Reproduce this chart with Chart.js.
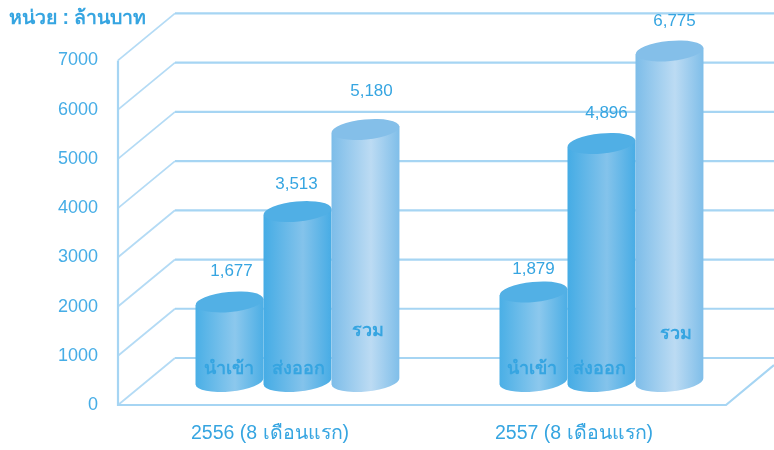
<!DOCTYPE html>
<html>
<head>
<meta charset="utf-8">
<style>html,body{margin:0;padding:0;background:#fff}canvas{display:block}</style>
<script src="https://cdn.jsdelivr.net/npm/chart.js@4/dist/chart.umd.min.js"></script>
</head>
<body>
<canvas id="c" width="774" height="450"></canvas>
<script>
const categories = ["2556 (8 เดือนแรก)", "2557 (8 เดือนแรก)"];
const seriesNames = ["นำเข้า", "ส่งออก", "รวม"];
const imports = [1677, 1879];
const exportsV = [3513, 4896];
const totals = [5180, 6775];
const unitTitle = "หน่วย : ล้านบาท";
const yMax = 7000;
const yStep = 1000;

// styling only
const TEXT = "#36a5e1";
const FONT = "'Liberation Sans', Arial, sans-serif";
const DEPTH_X = 57, DEPTH_Y = 47;
const CAP_SHIFT = 3;
const cylStyles = [
  {edgeL:"#4aafe6", mid:"#8cc8ed", edgeR:"#4caee5", top:"#52b0e5"},
  {edgeL:"#45ace5", mid:"#84c3eb", edgeR:"#47ace5", top:"#50afe5"},
  {edgeL:"#7dbde9", mid:"#bcdbf3", edgeR:"#7fbee9", top:"#84bfe9"}
];
// label placement offsets, per series/category
const valueLift = [[28,20],[24,27],[35,27]];
const valueDx = [[1,-1],[-2,4],[5,4]];
const innerLift = [[12,12],[12,12],[50,47]];
const innerDx = [[-1,-2],[1,-2],[3,7]];

function drawCylinders(chart, index) {
  const {ctx} = chart;
  const st = cylStyles[index];
  const tilt = -0.095, ry = 10;
  chart.getDatasetMeta(index).data.forEach(el => {
    const w = el.width, rx = w / 2;
    const cx = el.x + DEPTH_X / 2 - 1;
    const top = el.y - DEPTH_Y / 2 + CAP_SHIFT;
    const base = el.base - DEPTH_Y / 2;
    const dy = Math.sin(-tilt) * rx;
    const g = ctx.createLinearGradient(cx - rx, 0, cx + rx, 0);
    g.addColorStop(0, st.edgeL);
    g.addColorStop(0.58, st.mid);
    g.addColorStop(1, st.edgeR);
    ctx.save();
    ctx.fillStyle = g;
    ctx.beginPath();
    ctx.moveTo(cx - rx, top + dy);
    ctx.lineTo(cx - rx, base + dy);
    ctx.ellipse(cx, base, rx, ry, tilt, Math.PI, 0, true);
    ctx.lineTo(cx + rx, top - dy);
    ctx.closePath();
    ctx.fill();
    ctx.fillStyle = st.top;
    ctx.beginPath();
    ctx.ellipse(cx, top, rx, ry, tilt, 0, Math.PI * 2);
    ctx.fill();
    ctx.restore();
  });
}

const cylinderPlugin = {
  id: "cylinders",
  beforeDatasetsDraw(chart) {
    const {ctx, scales:{y}, chartArea:a} = chart;
    const W = chart.width;
    ctx.save();
    ctx.lineCap = "butt";
    const ticks = y.ticks.map(t => t.value);
    ctx.strokeStyle = "#b4dbf5";
    ctx.lineWidth = 1.8;
    ticks.forEach(v => {
      const py = y.getPixelForValue(v);
      ctx.beginPath();
      ctx.moveTo(a.left, py);
      ctx.lineTo(a.left + DEPTH_X, py - DEPTH_Y);
      ctx.stroke();
    });
    ctx.strokeStyle = "#a6d5f3";
    ctx.lineWidth = 2.2;
    ticks.forEach(v => {
      const py = y.getPixelForValue(v);
      ctx.beginPath();
      ctx.moveTo(a.left + DEPTH_X, py - DEPTH_Y);
      ctx.lineTo(W, py - DEPTH_Y);
      ctx.stroke();
    });
    ctx.beginPath();
    ctx.moveTo(a.left, a.top);
    ctx.lineTo(a.left, a.bottom);
    ctx.lineTo(a.right, a.bottom);
    ctx.lineTo(W, a.bottom - 40);
    ctx.stroke();
    ctx.restore();
  },
  beforeDatasetDraw() { return false; },
  afterDatasetsDraw(chart) {
    const {ctx} = chart;
    chart.data.datasets.forEach((ds, i) => drawCylinders(chart, i));
    ctx.save();
    ctx.textAlign = "center";
    ctx.textBaseline = "middle";
    ctx.fillStyle = TEXT;
    chart.data.datasets.forEach((ds, i) => {
      chart.getDatasetMeta(i).data.forEach((el, j) => {
        const cx = el.x + DEPTH_X / 2 - 1;
        ctx.font = "17px " + FONT;
        ctx.fillText(ds.data[j].toLocaleString("en-US"), cx + 1 + valueDx[i][j], el.y - DEPTH_Y / 2 - valueLift[i][j]);
        ctx.font = "bold 18px " + FONT;
        ctx.fillText(ds.label, cx + innerDx[i][j], el.base - DEPTH_Y / 2 - innerLift[i][j]);
      });
    });
    ctx.restore();
  }
};

new Chart(document.getElementById("c"), {
  type: "bar",
  data: {
    labels: categories,
    datasets: [
      {label: seriesNames[0], data: imports, backgroundColor: "#52b0e5"},
      {label: seriesNames[1], data: exportsV, backgroundColor: "#50afe5"},
      {label: seriesNames[2], data: totals, backgroundColor: "#84bfe9"}
    ]
  },
  plugins: [cylinderPlugin],
  options: {
    responsive: false,
    animation: false,
    layout: {padding: {left: 9, top: 5, right: 48, bottom: 0}},
    datasets: {bar: {barPercentage: 1, categoryPercentage: 0.671}},
    plugins: {
      legend: {display: false},
      tooltip: {enabled: false},
      title: {
        display: true, text: unitTitle, align: "start", color: TEXT,
        font: {family: FONT, size: 19.5, weight: "bold"},
        padding: {top: 2, bottom: 30}
      }
    },
    scales: {
      x: {
        grid: {display: false, drawTicks: false},
        border: {display: false},
        ticks: {color: TEXT, font: {family: FONT, size: 19.5}, padding: 17, maxRotation: 0},
        afterFit(s) { s.height = 45; }
      },
      y: {
        min: 0, max: yMax,
        grid: {display: false, drawTicks: false},
        border: {display: false},
        ticks: {stepSize: yStep, color: "#46ade6", font: {family: FONT, size: 18}, padding: 20, callback: v => String(v)},
        afterFit(s) { s.width = 109; }
      }
    }
  }
});
</script>
</body>
</html>
